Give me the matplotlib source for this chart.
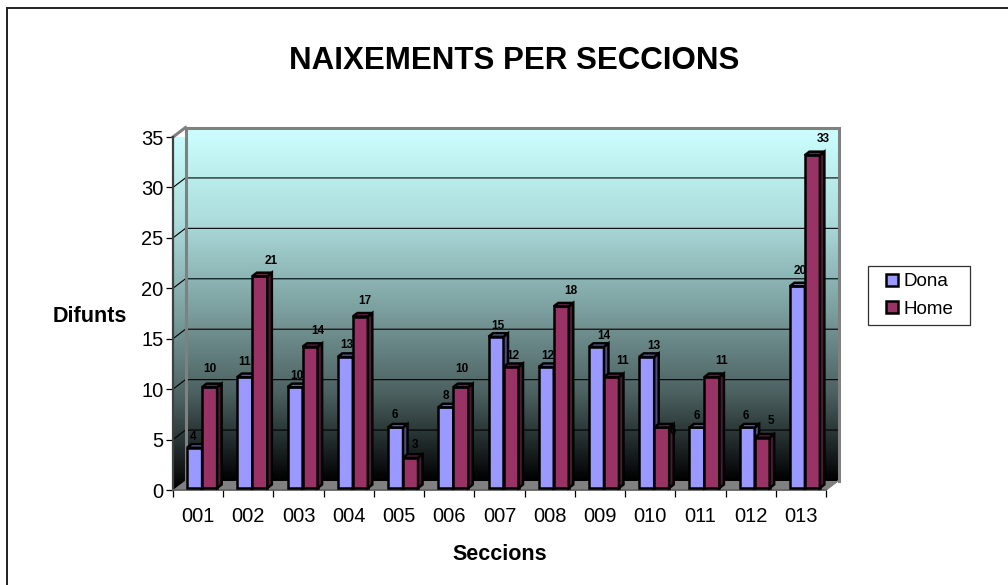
import numpy as np
import matplotlib
matplotlib.use('Agg')
import matplotlib.pyplot as plt
from matplotlib.colors import LinearSegmentedColormap
from matplotlib.lines import Line2D
from matplotlib.patches import Polygon, Rectangle

plt.rcParams['font.family'] = ['Liberation Sans', 'DejaVu Sans']

seccions = ['001', '002', '003', '004', '005', '006', '007', '008', '009', '010', '011', '012', '013']
dona = [4, 11, 10, 13, 6, 8, 15, 12, 14, 13, 6, 6, 20]
home = [10, 21, 14, 17, 3, 10, 12, 18, 11, 6, 11, 5, 33]
y_ticks = [0, 5, 10, 15, 20, 25, 30, 35]

# label nudges in pixels (x, height above the bar top)
dona_nudge = [(-1, 11), (0, 15), (2, 11), (2, 12), (-1, 12), (0, 11), (2, 11), (2, 11), (7, 11), (7, 11), (0, 11), (-1, 11), (3, 15)]
home_nudge = [(0, 18), (11, 15), (8, 16), (5, 16), (4, 13), (1, 18), (2, 11), (10, 15), (11, 16), (11, -4), (10, 16), (9, 17), (11, 16)]

W, H = 1008, 585
fig = plt.figure(figsize=(W / 100, H / 100), dpi=100)
fig.patch.set_facecolor('white')
ax = fig.add_axes([173 / W, 1 - 490 / H, 653 / W, 353 / H])
ax.patch.set_visible(False)

n = len(seccions)
px_x = n / 653   # one pixel in x units
px_y = 35 / 353  # one pixel in y units
wall_dx, wall_dy = 12.5 * px_x, 9.5 * px_y
bar_w = 15 * px_x
shift_x, shift_y = 4 * px_x, 2 * px_y
depth_x, depth_y = 4.5 * px_x, 3.5 * px_y

# floor
ax.add_patch(Polygon([(0, 0), (n, 0), (n + wall_dx, wall_dy), (wall_dx, wall_dy)],
                     fc='#808080', ec='#808080', lw=0.5, zorder=1, clip_on=False))

# back wall and left wall share the gradient
sky = LinearSegmentedColormap.from_list('sky', ['#CCFFFF', '#AEDEDE', '#7FA3A3', '#4C6161', '#000000'])
grad = np.linspace(0, 1, 256).reshape(-1, 1)
back = ax.imshow(grad, cmap=sky, aspect='auto', extent=(wall_dx, n + wall_dx, wall_dy, 35 + wall_dy), zorder=1)
back.set_clip_on(False)
side = ax.imshow(grad, cmap=sky, aspect='auto', extent=(0, wall_dx, 0, 35 + wall_dy), zorder=1)
side.set_clip_path(Polygon([(0, 0), (wall_dx, wall_dy), (wall_dx, 35 + wall_dy), (0, 35)], transform=ax.transData))

# gridlines
for t in y_ticks[1:-1]:
    ax.plot([0, wall_dx, n + wall_dx], [t, t + wall_dy, t + wall_dy], color='black', lw=0.8, zorder=2, clip_on=False)

# wall frame
ax.plot([wall_dx, wall_dx, n + wall_dx, n + wall_dx], [wall_dy, 35 + wall_dy, 35 + wall_dy, wall_dy],
        color='#808080', lw=2.2, zorder=2, clip_on=False, solid_joinstyle='miter')
ax.plot([0, wall_dx], [35, 35 + wall_dy], color='#808080', lw=2.2, zorder=2, clip_on=False)
ax.plot([n, n + wall_dx], [0, wall_dy], color='#808080', lw=1, zorder=2, clip_on=False)


def draw_bars(values, offset, color, side_color, top_color, z):
    xs = np.arange(n) + 0.5 + offset * bar_w + shift_x
    rects = ax.bar(xs, values, width=bar_w, bottom=shift_y, color=color, edgecolor='black',
                   linewidth=1.8, zorder=z, clip_on=False)
    for x, v in zip(xs, values):
        r = x + bar_w / 2
        l = x - bar_w / 2
        top = v + shift_y
        ax.add_patch(Polygon([(r, shift_y), (r + depth_x, shift_y + depth_y), (r + depth_x, top + depth_y), (r, top)],
                             fc=side_color, ec='black', lw=1.8, zorder=z, clip_on=False))
        ax.add_patch(Polygon([(l, top), (l + depth_x, top + depth_y), (r + depth_x, top + depth_y), (r, top)],
                             fc=top_color, ec='black', lw=1.8, zorder=z, clip_on=False))
    return xs, rects


def draw_labels(xs, values, nudges, z):
    for x, v, (nx, ny) in zip(xs, values, nudges):
        ax.text(x + nx * px_x, v + shift_y + ny * px_y, str(v), ha='center', va='center',
                fontsize=8.5, fontweight='bold', color='black', zorder=z, clip_on=False)


xs_d, bars_d = draw_bars(dona, -0.5, '#9999FF', '#4D4D80', '#7373BF', 4)
draw_labels(xs_d, dona, dona_nudge, 4.5)
xs_h, bars_h = draw_bars(home, 0.5, '#993366', '#4D1A33', '#732650', 5)
draw_labels(xs_h, home, home_nudge, 6)

ax.set_xlim(0, n)
ax.set_ylim(0, 35)
ax.set_xticks(np.arange(n + 1))
ax.set_xticklabels([])
ax.set_xticks(np.arange(n) + 0.5, seccions, minor=True)
ax.set_yticks(y_ticks)
ax.tick_params(axis='x', which='major', length=5, width=0.9, color='black')
ax.tick_params(axis='x', which='minor', length=0, labelsize=14.5, pad=12)
ax.tick_params(axis='y', length=5, width=0.9, color='black', labelsize=14.5, pad=2)
for name in ['top', 'right']:
    ax.spines[name].set_visible(False)
ax.spines['left'].set_color('#404040')
ax.spines['left'].set_linewidth(1.6)
ax.spines['bottom'].set_color('#606060')
ax.spines['bottom'].set_linewidth(1.2)

fig.text(514 / W, 1 - 61 / H, 'NAIXEMENTS PER SECCIONS', ha='center', va='center', fontsize=22.5, fontweight='bold')
fig.text(90 / W, 1 - 316 / H, 'Difunts', ha='center', va='center', fontsize=15.5, fontweight='bold')
fig.text(500 / W, 1 - 555 / H, 'Seccions', ha='center', va='center', fontsize=15.5, fontweight='bold')

# legend: frame drawn apart, it is wider than the padding would give
fig.add_artist(Rectangle((868 / W, 1 - 324.5 / H), 101.5 / W, 58.5 / H, transform=fig.transFigure,
                         fc='white', ec='#303030', lw=0.9))
leg = fig.legend([bars_d, bars_h], ['Dona', 'Home'], loc='center', bbox_to_anchor=(919.5 / W, 1 - 295.5 / H),
                 bbox_transform=fig.transFigure, fontsize=13.5, frameon=False, handlelength=0.62, handleheight=0.62,
                 handletextpad=0.3, labelspacing=0.55, borderpad=0, borderaxespad=0)

# chart area border: only the top and left edges show
fig.add_artist(Line2D([6.5 / W, 6.5 / W, 1], [0, 1 - 8 / H, 1 - 8 / H], transform=fig.transFigure,
                      color='#202020', lw=1.4, solid_joinstyle='miter'))

fig.savefig('out.png', dpi=100)
